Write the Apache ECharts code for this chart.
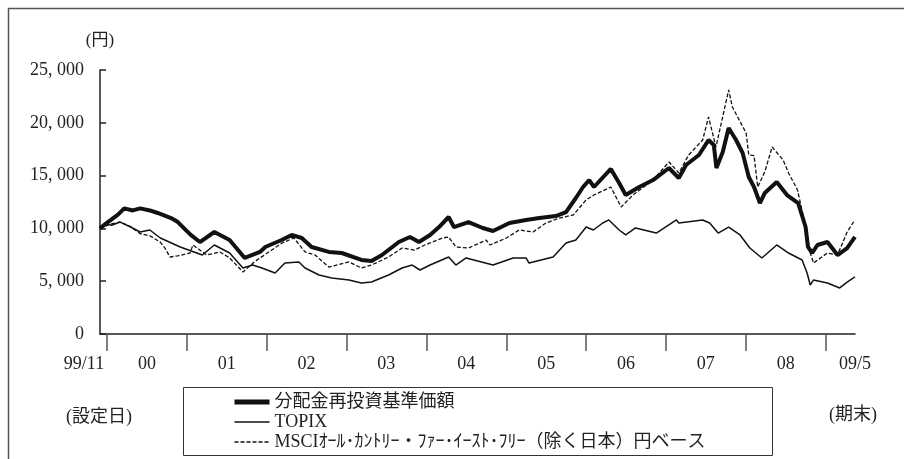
<!DOCTYPE html>
<html>
<head>
<meta charset="utf-8">
<script src="https://cdn.jsdelivr.net/npm/echarts@6/dist/echarts.min.js"></script>
<style>html,body{margin:0;padding:0;background:#fff}#c{width:904px;height:459px}</style>
</head>
<body>
<div id="c"></div>
<script>
const seriesNames = ['分配金再投資基準価額', 'TOPIX', 'MSCIｵｰﾙ･ｶﾝﾄﾘｰ・ﾌｧｰ･ｲｰｽﾄ･ﾌﾘｰ（除く日本）円ベース'];
const yUnit = '(円)';
const startNote = '(設定日)';
const endNote = '(期末)';

const yTickValues = [0, 5000, 10000, 15000, 20000, 25000];
const yTickLabels = ['0', '5, 000', '10, 000', '15, 000', '20, 000', '25, 000'];

const xTickDates = ['2000-01-01','2001-01-01','2002-01-01','2003-01-01','2004-01-01','2005-01-01','2006-01-01','2007-01-01','2008-01-01','2009-01-01'];
const xLabelDates = ['1999-11-30','2000-07-02','2001-07-02','2002-07-02','2003-07-02','2004-07-02','2005-07-02','2006-07-02','2007-07-02','2008-07-02','2009-05-15'];
const xLabelTexts = ['99/11','00','01','02','03','04','05','06','07','08','09/5'];

const fundDates = ['1999-11-30','2000-01-05','2000-02-20','2000-03-20','2000-04-28','2000-06-01','2000-07-15','2000-08-20','2000-10-20','2000-11-20','2001-01-18','2001-03-01','2001-05-06','2001-07-15','2001-09-22','2001-12-01','2001-12-25','2002-03-10','2002-04-25','2002-06-10','2002-07-25','2002-10-12','2002-12-10','2003-03-10','2003-04-25','2003-06-12','2003-08-28','2003-10-18','2003-11-28','2004-01-18','2004-02-28','2004-04-12','2004-05-06','2004-07-12','2004-09-15','2004-11-01','2005-01-15','2005-04-01','2005-06-01','2005-08-15','2005-10-01','2005-11-15','2005-12-18','2006-01-15','2006-02-06','2006-04-24','2006-06-01','2006-07-01','2006-09-01','2006-11-03','2007-01-15','2007-03-01','2007-04-03','2007-06-01','2007-07-15','2007-08-08','2007-08-20','2007-09-18','2007-10-15','2007-11-18','2007-12-18','2008-01-15','2008-02-08','2008-03-06','2008-03-28','2008-05-22','2008-07-08','2008-08-28','2008-10-01','2008-10-12','2008-10-31','2008-11-24','2009-01-09','2009-02-24','2009-04-09','2009-05-15'];
const fundValues = [10000,10600,11300,11900,11700,11900,11700,11460,10980,10600,9380,8710,9660,8900,7200,7770,8240,8900,9380,9090,8240,7770,7670,7010,6910,7480,8710,9190,8710,9380,10130,11080,10130,10600,10040,9750,10510,10800,10980,11170,11550,12880,13920,14580,13920,15630,14300,13160,13920,14580,15720,14770,16000,16950,18370,17900,15720,17240,19510,18370,17140,14870,13920,12400,13350,14390,13160,12400,10130,8240,7670,8430,8710,7480,8140,9190];

const topixDates = ['1999-11-30','1999-12-22','2000-01-22','2000-03-01','2000-04-18','2000-06-01','2000-07-15','2000-09-01','2000-12-01','2001-03-12','2001-05-06','2001-07-15','2001-09-14','2001-10-28','2001-12-10','2002-02-08','2002-03-25','2002-05-28','2002-06-25','2002-08-28','2002-10-25','2003-01-12','2003-03-10','2003-04-25','2003-07-12','2003-09-12','2003-10-28','2003-12-03','2004-01-18','2004-04-12','2004-05-15','2004-07-01','2004-11-01','2005-02-01','2005-04-01','2005-04-15','2005-08-03','2005-10-01','2005-11-15','2006-01-01','2006-02-03','2006-03-18','2006-04-15','2006-06-01','2006-07-01','2006-08-15','2006-11-18','2007-02-18','2007-03-01','2007-06-18','2007-07-20','2007-08-28','2007-10-15','2007-12-06','2008-01-20','2008-03-15','2008-05-22','2008-07-15','2008-09-15','2008-10-08','2008-10-22','2008-11-06','2009-01-09','2009-03-06','2009-04-09','2009-05-15'];
const topixValues = [10000,10500,10300,10600,10130,9660,9850,9090,8240,7480,8430,7670,6250,6530,6250,5780,6720,6820,6250,5590,5300,5110,4830,4920,5590,6250,6530,6060,6530,7290,6530,7200,6530,7200,7200,6720,7290,8620,8900,10130,9850,10510,10800,9850,9380,10040,9560,10800,10510,10800,10510,9560,10130,9380,8140,7200,8430,7670,7010,5780,4640,5110,4830,4360,4920,5400];

const msciDates = ['1999-11-30','2000-01-15','2000-03-01','2000-04-15','2000-06-01','2000-07-15','2000-09-01','2000-09-22','2000-10-15','2000-11-20','2001-01-15','2001-01-28','2001-04-01','2001-06-01','2001-07-15','2001-09-14','2001-11-05','2001-12-01','2002-01-20','2002-03-10','2002-05-05','2002-06-25','2002-08-10','2002-10-12','2003-01-12','2003-03-10','2003-04-25','2003-07-12','2003-09-12','2003-11-08','2003-12-25','2004-01-18','2004-03-15','2004-04-12','2004-05-15','2004-07-12','2004-10-01','2004-10-18','2005-01-01','2005-03-01','2005-05-03','2005-07-01','2005-09-01','2005-11-03','2006-01-01','2006-02-06','2006-04-24','2006-06-10','2006-08-03','2006-11-03','2007-01-15','2007-03-01','2007-04-15','2007-06-18','2007-07-15','2007-08-18','2007-10-15','2007-11-01','2007-11-25','2008-01-03','2008-01-15','2008-02-08','2008-02-25','2008-03-28','2008-05-01','2008-06-20','2008-07-15','2008-08-25','2008-10-01','2008-10-22','2008-11-06','2009-01-09','2009-02-24','2009-04-09','2009-05-08','2009-05-15'];
const msciValues = [10000,10400,10600,10200,9500,9300,8700,8140,7290,7400,7670,8430,7480,7770,7200,5870,6820,7200,7900,8600,9090,7770,7480,6340,6820,6250,6530,7290,8140,7950,8430,8620,9090,9190,8240,8140,8900,8430,9090,9850,9660,10510,10980,11270,12700,13160,13920,12030,13160,14580,16290,15250,16950,18370,20550,17710,23110,21500,20550,19030,16950,16900,13920,15340,17710,16480,15250,13640,10130,7670,6720,7670,7480,9660,10600,10400];

function ts(s) { const p = s.split('-').map(Number); return Date.UTC(p[0], p[1] - 1, p[2]); }
function pairs(d, v) { return d.map((s, i) => [ts(s), v[i]]); }

const FONT = '"Liberation Serif", "Noto Sans CJK JP", serif';
const INK = '#222';
const labelTs = xLabelDates.map(ts);
const lineStyles = [
  { color: '#111', width: 4 },
  { color: '#111', width: 1.5 },
  { color: '#111', width: 1.3, type: [4, 2] }
];

const chart = echarts.init(document.getElementById('c'), null, { renderer: 'canvas' });
chart.setOption({
  backgroundColor: '#fff',
  animation: false,
  grid: { left: 100, right: 49, top: 70, bottom: 125, containLabel: false },
  xAxis: {
    type: 'value',
    min: labelTs[0],
    max: labelTs[labelTs.length - 1],
    axisLine: { show: true, lineStyle: { color: INK, width: 1.5 } },
    axisTick: { show: true, length: 17, lineStyle: { color: '#555', width: 1.5 }, customValues: xTickDates.map(ts) },
    axisLabel: {
      customValues: labelTs,
      showMinLabel: true, showMaxLabel: true,
      margin: 21,
      fontSize: 18, fontFamily: FONT, color: INK,
      formatter: function (val) {
        let best = 0, bd = Infinity;
        labelTs.forEach((t, i) => { const d = Math.abs(t - val); if (d < bd) { bd = d; best = i; } });
        if (best === 0) return '{s|' + xLabelTexts[best] + '}';
        return xLabelTexts[best];
      },
      rich: { s: { fontSize: 18, fontFamily: FONT, color: INK, padding: [0, 32, 0, 0] } }
    },
    splitLine: { show: false }
  },
  yAxis: {
    type: 'value', min: 0, max: 25000, interval: 5000,
    name: yUnit, nameLocation: 'end', nameGap: 21,
    nameTextStyle: { fontSize: 17, fontFamily: FONT, color: INK, align: 'center' },
    axisLine: { show: true, lineStyle: { color: INK, width: 1.5 } },
    axisTick: { show: true, inside: true, length: 6, lineStyle: { color: INK, width: 1.5 } },
    axisLabel: {
      margin: 16, fontSize: 18, fontFamily: FONT, color: INK,
      formatter: function (v) { const i = yTickValues.indexOf(v); return i >= 0 ? yTickLabels[i] : ''; }
    },
    splitLine: { show: false }
  },
  legend: {
    orient: 'vertical', left: 232, top: 393, padding: 0, itemGap: 2,
    itemWidth: 35, itemHeight: 14, selectedMode: false,
    itemStyle: { opacity: 0 },
    textStyle: { fontSize: 18, fontFamily: FONT, color: INK },
    data: [
      { name: seriesNames[0], lineStyle: { width: 5, color: '#111' } },
      { name: seriesNames[1], lineStyle: { width: 1.5, color: '#111' } },
      { name: seriesNames[2], lineStyle: { width: 1.3, color: '#111', type: [4, 2] } }
    ]
  },
  graphic: [
    { type: 'rect', silent: true, z: -10, shape: { x: 8.5, y: 8.5, width: 1200, height: 1200 }, style: { fill: null, stroke: '#555', lineWidth: 1.5 } },
    { type: 'rect', silent: true, z: -5, shape: { x: 183.5, y: 387.5, width: 589, height: 68 }, style: { fill: null, stroke: '#333', lineWidth: 1 } },
    { type: 'text', silent: true, x: 99, y: 417, style: { text: startNote, font: '18px ' + FONT, fill: INK, align: 'center', verticalAlign: 'middle' } },
    { type: 'text', silent: true, x: 853, y: 415, style: { text: endNote, font: '18px ' + FONT, fill: INK, align: 'center', verticalAlign: 'middle' } }
  ],
  series: [
    { name: seriesNames[0], type: 'line', data: pairs(fundDates, fundValues), symbol: 'none', z: 3,
      lineStyle: lineStyles[0], itemStyle: { color: '#111' } },
    { name: seriesNames[1], type: 'line', data: pairs(topixDates, topixValues), symbol: 'none', z: 2,
      lineStyle: lineStyles[1], itemStyle: { color: '#111' } },
    { name: seriesNames[2], type: 'line', data: pairs(msciDates, msciValues), symbol: 'none', z: 2,
      lineStyle: lineStyles[2], itemStyle: { color: '#111' } }
  ]
});
</script>
</body>
</html>
